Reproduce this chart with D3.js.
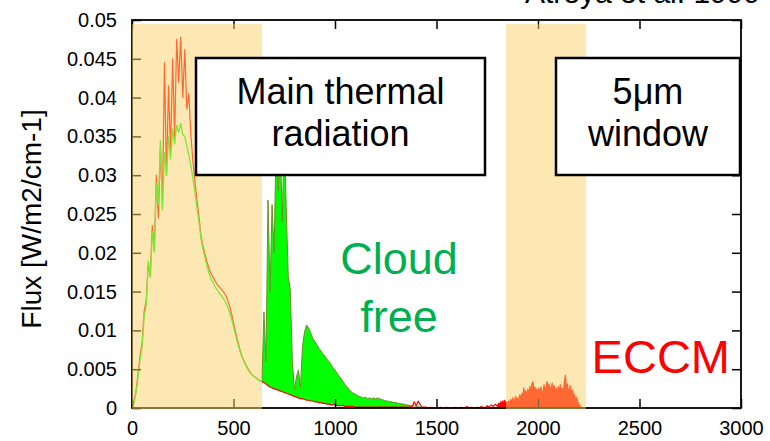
<!DOCTYPE html>
<html>
<head>
<meta charset="utf-8">
<script src="https://cdn.jsdelivr.net/npm/d3@7"></script>
<style>
  html, body { margin: 0; padding: 0; background: #fff; }
  svg { display: block; font-family: "Liberation Sans", Arial, Helvetica, sans-serif; }
</style>
</head>
<body>
<svg id="chart" width="770" height="441"></svg>
<script>
// Outgoing thermal flux spectra [W/m2/cm-1] sampled every 10 cm-1 from 0 cm-1
const wnStep = 10;

// ECCM model spectrum, 0 ... 1790 cm-1
const eccm = [
  0, .0008, .0022, .0045, .0068, .0085, .0125, .0138, .0185, .0172,
  .0235, .0205, .0300, .0245, .0335, .0262, .0445, .0300, .0415, .0330,
  .0450, .0350, .0475, .0420, .0478, .0400, .0462, .0385, .0405, .0352,
  .0318, .0292, .0268, .0246, .0222, .0208, .0198, .0188, .0179, .0173,
  .0168, .0163, .0159, .0156, .0153, .0150, .0146, .0140, .0132, .0122,
  .0110, .0098, .0087, .0077, .0068, .0062, .0056, .0051, .0047, .0043,
  .0041, .0039, .0037, .0035, .0034, .0033, .0031, .0029, .0027, .0026,
  .0025, .0024, .0023, .0022, .0021, .0020, .0019, .0018, .0017, .0016,
  .0015, .0014, .0013, .0012, .0012, .0011, .0010, .0010, .0009, .0009,
  .0008, .0008, .0007, .0007, .0006, .0006, .0005, .0005, .0004, .0004,
  .0004, .0003, .0003, .0003, .0003, .0002, .0002, .0002, .0002, .0002,
  .0001, .0001, .0001, .0001, .0001, .0001, .0001, .0001, .0001, .0001,
  .0001, .0001, .0001, .0001, .0001, .0001, .0001, .0001, .0001, .0001,
  .0001, .0001, .0001, .0001, .0001, .0001, .0001, .0002, .0001, .0008,
  .0003, .0009, .0004, .0001, .0001, .0001, 0, .0001, 0, 0,
  0, 0, .0001, 0, 0, .0001, 0, 0, 0, .0001,
  0, 0, .0001, 0, 0, .0002, 0, .0001, 0, 0,
  .0001, 0, .0002, .0001, 0, .0003, .0001, .0004, .0002, .0005
];

// Cloud-free spectrum, 0 ... 1500 cm-1
const cloudFree = [
  0, .0006, .0020, .0040, .0062, .0080, .0118, .0132, .0190, .0168,
  .0228, .0200, .0290, .0262, .0345, .0255, .0330, .0300, .0350, .0320,
  .0360, .0340, .0365, .0355, .0367, .0352, .0350, .0338, .0326, .0312,
  .0296, .0278, .0258, .0240, .0218, .0204, .0193, .0183, .0173, .0166,
  .0161, .0156, .0152, .0148, .0145, .0141, .0137, .0131, .0124, .0115,
  .0105, .0094, .0084, .0075, .0067, .0061, .0055, .0050, .0046, .0043,
  .0041, .0039, .0037, .0035, .0034, .0124, .0060, .0268, .0150, .0262,
  .0200, .0345, .0280, .0350, .0240, .0355, .0255, .0169, .0152, .0060,
  .0023, .0040, .0049, .0027, .0080, .0098, .0107, .0103, .0097, .0090,
  .0086, .0082, .0077, .0074, .0070, .0067, .0063, .0060, .0056, .0052,
  .0049, .0045, .0041, .0038, .0034, .0030, .0027, .0024, .0021, .0019,
  .0018, .0016, .0015, .0014, .0013, .0014, .0012, .0013, .0012, .0013,
  .0012, .0013, .0012, .0011, .0010, .0009, .0009, .0008, .0008, .0007,
  .0007, .0006, .0006, .0005, .0005, .0004, .0004, .0003, .0003, .0003,
  .0002, .0002, .0001, .0001, 0, 0, 0, 0, 0, 0,
  0
];

// ECCM flux through the 5 um window, every 5 cm-1 from 1800 cm-1
const windowStart = 1800, windowStep = 5;
const eccmWindow = [
  .0002, .0006, .0003, .0008, .0004, .0009, .0005, .0010, .0006, .0008,
  .0004, .0009, .0005, .0011, .0007, .0013, .0008, .0011, .0015, .0009,
  .0013, .0008, .0017, .0012, .0019, .0014, .0026, .0018, .0022, .0015,
  .0024, .0017, .0028, .0020, .0031, .0034, .0022, .0027, .0018, .0025,
  .0016, .0026, .0019, .0027, .0017, .0022, .0030, .0021, .0028, .0034,
  .0024, .0031, .0022, .0027, .0032, .0023, .0029, .0020, .0026, .0018,
  .0028, .0021, .0030, .0023, .0025, .0019, .0035, .0042, .0026, .0031,
  .0020, .0025, .0029, .0019, .0023, .0016, .0017, .0011, .0014, .0008,
  .0006, .0003, .0002, .0001, 0, 0, 0, 0, 0
];

// Highlighted spectral ranges [cm-1]
const bandRanges = [[0, 640], [1842, 2236]];
const bandTop = 0.0495;

const xTicks = [0, 500, 1000, 1500, 2000, 2500, 3000];
const xTickLabels = ["0", "500", "1000", "1500", "2000", "2500", "3000"];
const yTicks = [0, 0.005, 0.01, 0.015, 0.02, 0.025, 0.03, 0.035, 0.04, 0.045, 0.05];
const yTickLabels = ["0", "0.005", "0.01", "0.015", "0.02", "0.025", "0.03", "0.035", "0.04", "0.045", "0.05"];

// ---------------------------------------------------------------------------
const svg = d3.select("#chart");
const plot = { left: 132, right: 741, top: 20, bottom: 408 };

const x = d3.scaleLinear().domain([0, 3000]).range([plot.left, plot.right]);
const y = d3.scaleLinear().domain([0, 0.05]).range([plot.bottom, plot.top]);

const eccmPts = eccm.map((v, i) => ({ wn: i * wnStep, v }));
const windowPts = eccmWindow.map((v, i) => ({ wn: windowStart + i * windowStep, v }));
const cfPts = cloudFree.map((v, i) => ({ wn: i * wnStep, v, base: eccm[i] }));

const g = svg.append("g");

// green: where the cloud-free flux exceeds the ECCM flux
g.append("path")
  .datum(cfPts)
  .attr("fill", "#00ff00")
  .attr("d", d3.area()
    .x(d => x(d.wn))
    .y0(d => y(d.base))
    .y1(d => y(Math.max(d.v, d.base))));

// ECCM emission through the 5 um window
g.append("path")
  .datum(windowPts)
  .attr("fill", "#ff0000")
  .attr("d", d3.area().x(d => x(d.wn)).y0(y(0)).y1(d => y(d.v)));

// ECCM spectrum line
g.append("path")
  .datum(eccmPts.concat(windowPts))
  .attr("fill", "none")
  .attr("stroke", "#ff0000")
  .attr("stroke-width", 1.2)
  .attr("stroke-linejoin", "round")
  .attr("d", d3.line().x(d => x(d.wn)).y(d => y(d.v)));

// cloud-free spectrum line
g.append("path")
  .datum(cfPts.filter(d => d.wn <= 640))
  .attr("fill", "none")
  .attr("stroke", "#00ff00")
  .attr("stroke-width", 1.3)
  .attr("d", d3.line().x(d => x(d.wn)).y(d => y(d.v)));
g.append("path")
  .datum(cfPts.filter(d => d.wn >= 640))
  .attr("fill", "none")
  .attr("stroke", "#6f8f25")
  .attr("stroke-width", 1)
  .attr("d", d3.line().x(d => x(d.wn)).y(d => y(d.v)));

// axes with inward ticks on all four sides
const fmtX = (d, i) => xTickLabels[i];
const fmtY = (d, i) => yTickLabels[i];

const axL = svg.append("g").attr("transform", `translate(${plot.left},0)`)
  .call(d3.axisLeft(y).tickValues(yTicks).tickFormat(fmtY).tickSize(-9).tickPadding(15));
const axB = svg.append("g").attr("transform", `translate(0,${plot.bottom})`)
  .call(d3.axisBottom(x).tickValues(xTicks).tickFormat(fmtX).tickSize(-9).tickPadding(13));
const axT = svg.append("g").attr("transform", `translate(0,${plot.top})`)
  .call(d3.axisTop(x).tickValues(xTicks).tickFormat("").tickSize(-9));
const axR = svg.append("g").attr("transform", `translate(${plot.right},0)`)
  .call(d3.axisRight(y).tickValues(yTicks).tickFormat("").tickSize(-9));

[axL, axB, axT, axR].forEach(a => {
  a.select(".domain").remove();
  a.selectAll(".tick line").attr("stroke", "#000").attr("stroke-width", 1.5);
  a.selectAll(".tick text")
    .attr("fill", "#000")
    .style("font-family", "'Liberation Sans', Arial, sans-serif")
    .style("font-size", "20px");
});

svg.append("rect")
  .attr("x", plot.left).attr("y", plot.top)
  .attr("width", plot.right - plot.left).attr("height", plot.bottom - plot.top)
  .attr("fill", "none").attr("stroke", "#000").attr("stroke-width", 1.8);

// translucent highlight bands
svg.selectAll("rect.band")
  .data(bandRanges)
  .enter().append("rect")
  .attr("class", "band")
  .attr("x", d => x(d[0]))
  .attr("width", d => x(d[1]) - x(d[0]))
  .attr("y", y(bandTop))
  .attr("height", y(0) - y(bandTop) + 1)
  .attr("fill", "rgb(251,207,101)")
  .attr("fill-opacity", 0.5);

// labelled boxes
const boxes = [
  { x0: 196, y0: 58, x1: 485, y1: 175, lines: ["Main thermal", "radiation"] },
  { x0: 556, y0: 58, x1: 740, y1: 175, lines: ["5μm", "window"] }
];
boxes.forEach(b => {
  svg.append("rect")
    .attr("x", b.x0).attr("y", b.y0)
    .attr("width", b.x1 - b.x0).attr("height", b.y1 - b.y0)
    .attr("fill", "#fff").attr("stroke", "#000").attr("stroke-width", 2.5);
  b.lines.forEach((t, i) => {
    svg.append("text")
      .attr("x", (b.x0 + b.x1) / 2)
      .attr("y", 104 + i * 42)
      .attr("text-anchor", "middle")
      .style("font-size", "36px")
      .attr("fill", "#000")
      .text(t);
  });
});

// series annotations
svg.append("text").attr("x", 399).attr("y", 274).attr("text-anchor", "middle")
  .style("font-size", "45px").attr("fill", "#00b050").text("Cloud");
svg.append("text").attr("x", 399).attr("y", 332).attr("text-anchor", "middle")
  .style("font-size", "45px").attr("fill", "#00b050").text("free");
svg.append("text").attr("x", 730).attr("y", 373).attr("text-anchor", "end")
  .style("font-size", "47px").attr("fill", "#ff0000").text("ECCM");

// source
svg.append("text").attr("x", 525).attr("y", 3)
  .style("font-size", "30px").attr("fill", "#000").text("Atreya et al. 1999");

// y-axis title
svg.append("text")
  .attr("transform", "translate(41,219) rotate(-90)")
  .attr("text-anchor", "middle")
  .style("font-size", "28px")
  .attr("fill", "#000")
  .text("Flux [W/m2/cm-1]");
</script>
</body>
</html>
